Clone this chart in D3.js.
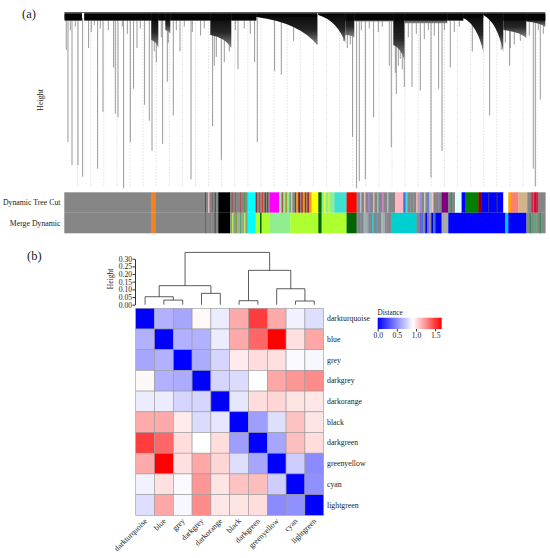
<!DOCTYPE html>
<html>
<head>
<meta charset="utf-8">
<script src="https://cdn.jsdelivr.net/npm/d3@7"></script>
<style>
  body { margin: 0; background: #fff; }
  text { font-family: "Liberation Serif", "Times New Roman", "DejaVu Serif", serif; fill: #1a1a1a; }
</style>
</head>
<body>
<div id="chart"></div>
<script>
// ---------- panel (a): gene dendrogram, positions along gene order (0..481) ----------
var grey = "#868686"

// Dynamic Tree Cut colour row  [from, to, colour]
var treeCutSegments = [
  [0, 86.7, grey], [86.7, 91.3, "#f58220"], [91.3, 140.7, grey],
  [140.7, 141.7, "#a52a2a"], [141.7, 144, grey], [144, 145, "#ffc0cb"], [145, 147, grey], [147, 148.5, "#696969"],
  [148.5, 150.5, grey], [150.5, 152, "#505050"], [152, 154, grey],
  [154, 165.7, "#000000"],
  [165.7, 167.5, grey], [167.5, 168.3, "#a52a2a"], [168.3, 171, grey], [171, 171.8, "#b22222"], [171.8, 176, grey],
  [176, 176.8, "#a52a2a"], [176.8, 180, grey], [180, 180.8, "#228b22"], [180.8, 183.3, grey],
  [183.3, 191.3, "#00ffff"],
  [191.3, 193, "#a52a2a"], [193, 195, grey], [195, 196, "#b22222"], [196, 198, grey], [198, 199, "#ff0000"],
  [199, 200.5, grey], [200.5, 201.5, "#006400"], [201.5, 203, grey], [203, 204, "#8b0000"], [204, 205.7, grey],
  [205.7, 214.7, "#ff00ff"],
  [214.7, 217, "#90ee90"], [217, 218, grey], [218, 219, "#a52a2a"], [219, 221, "#90ee90"], [221, 222, grey],
  [222, 223, "#b8860b"], [223, 225, "#90ee90"], [225, 226.5, grey], [226.5, 228, "#90ee90"], [228, 230.7, grey],
  [230.7, 232, "#b22222"], [232, 234, "#daa520"], [234, 235.5, "#8b0000"], [235.5, 237, grey], [237, 238.5, "#b22222"],
  [238.5, 240.5, "#daa520"], [240.5, 242, "#a52a2a"], [242, 243, grey], [243, 245, "#b22222"], [245, 247.3, "#daa520"],
  [247.3, 254, "#ffff00"], [254, 257.3, "#006400"],
  [257.3, 260, "#90ee90"], [260, 261, "#ffff00"], [261, 264, "#90ee90"], [264, 265, "#adff2f"], [265, 270, "#90ee90"],
  [270, 282.3, "#40e0d0"], [282.3, 292.3, "#ff0000"],
  [292.3, 296, grey], [296, 297, "#b0c4de"], [297, 300, grey], [300, 301, "#ffc0cb"], [301, 304, grey], [304, 305, "#9370db"],
  [305, 309, grey], [309, 310, "#ffb6c1"], [310, 313, grey], [313, 314, "#40e0d0"], [314, 318, grey], [318, 319, "#da70d6"],
  [319, 323, grey], [323, 324, "#87ceeb"], [324, 330.7, grey],
  [330.7, 339, "#ffb6c1"], [339, 341.3, "#4169e1"],
  [341.3, 343, "#40e0d0"], [343, 345, grey], [345, 346, "#4682b4"], [346, 349, grey],
  [349, 352, grey], [352, 353, "#ffb6c1"], [353, 356, "#a9a9a9"], [356, 357, "#9370db"], [357, 360, grey], [360, 361, "#d3d3d3"],
  [361, 364, grey], [364, 365, "#4169e1"], [365, 368, "#bebebe"], [368, 369, "#ffc0cb"], [369, 373, grey], [373, 374, "#6a5acd"],
  [374, 377.3, grey],
  [377.3, 384, "#800080"], [384, 386, grey], [386, 387.5, "#2e8b57"], [387.5, 390.7, grey],
  [390.7, 397.3, "#e0ffff"], [397.3, 400.7, "#0000ff"], [400.7, 414, "#008000"], [414, 417.3, "#8b0000"],
  [417.3, 424, "#0000ff"], [424, 425.5, "#191970"], [425.5, 432, "#0000ff"], [432, 433, "#00008b"], [433, 439, "#0000ff"],
  [439, 444, "#ffffff"], [444, 446.5, "#ffa500"], [446.5, 454, "#fa8072"], [454, 463, "#d2b48c"], [463, 467, grey],
  [467, 468.5, "#dc143c"], [468.5, 469.5, grey], [469.5, 471, "#dc143c"], [471, 472, "#8b0000"], [472, 474, "#dc143c"],
  [474, 481, grey]
]

// Merge Dynamic colour row
var mergedSegments = [
  [0, 86.7, grey], [86.7, 91.3, "#f58220"], [91.3, 140.7, grey],
  [140.7, 141.7, "#2e8b57"], [141.7, 146, grey], [146, 147, "#696969"], [147, 150, grey], [150, 151.5, "#505050"], [151.5, 154, grey],
  [154, 165.7, "#000000"],
  [165.7, 168, "#8fa080"], [168, 169, "#adff2f"], [169, 172, "#909888"], [172, 173, "#6b8e23"], [173, 176, "#a0b090"],
  [176, 177, "#2e8b57"], [177, 180, "#98a890"], [180, 181, "#adff2f"], [181, 183.3, "#8c9c84"],
  [183.3, 191.3, "#00ffff"], [191.3, 195.7, "#adff2f"], [195.7, 197.3, "#006400"], [197.3, 205.7, "#adff2f"],
  [205.7, 226, "#90ee90"], [226, 254, "#adff2f"], [254, 257.3, "#006400"], [257.3, 282.3, "#adff2f"], [282.3, 292.3, "#006400"],
  [292.3, 295, grey], [295, 296, "#4169e1"], [296, 299, grey], [299, 300, "#00ced1"], [300, 303, "#a9a9a9"], [303, 304, "#6495ed"],
  [304, 308, grey], [308, 309, "#00ced1"], [309, 312, grey], [312, 313, "#4682b4"], [313, 317, grey], [317, 318, "#40e0d0"],
  [318, 321, "#a9a9a9"], [321, 322, "#4169e1"], [322, 327.3, grey],
  [327.3, 352.3, "#00ced1"],
  [352.3, 355, grey], [355, 357, "#6a5acd"], [357, 359, "#4169e1"], [359, 361, grey], [361, 363, "#0000ff"], [363, 365, "#7b68ee"],
  [365, 367, grey], [367, 369, "#0000cd"], [369, 371, "#4169e1"], [371, 377.3, "#0000ff"],
  [377.3, 384, "#a9a9a9"], [384, 440.7, "#0000ff"], [440.7, 444, "#00bfff"], [444, 462, "#0000ff"],
  [462, 465, grey], [465, 467, "#2e8b57"], [467, 470, grey], [470, 472, "#3cb371"], [472, 475, grey], [475, 477, "#2e8b57"],
  [477, 481, grey]
]

// dense branches of the tree  [from, to, height at left, height at right]
var treeClusters = [
  [0.3, 17.7, 0.955, 0.955], [20, 87, 0.955, 0.955], [87, 94, 0.845, 0.80], [94, 101, 0.955, 0.955],
  [101, 106, 0.901, 0.88], [106, 146, 0.955, 0.955], [146, 167, 0.873, 0.80], [167, 192, 0.955, 0.955],
  [192, 253, 0.975, 0.817], [254, 281, 0.986, 0.828], [281, 290, 0.873, 0.86], [290, 329, 0.95, 0.95],
  [329, 340, 0.817, 0.732], [340, 383, 0.94, 0.94], [383, 399, 0.955, 0.955], [399, 419, 0.969, 0.777],
  [419, 439, 0.986, 0.777], [439, 462, 0.901, 0.856], [462, 481, 0.95, 0.918]
]

// single long branches  [position, lowest height]
var leafLines = [
  [2, 0.79], [3.7, 0.27], [7.7, 0.14], [13.7, 0.14], [18.3, 0.075], [24.3, 0.80], [33.3, 0.12], [38.7, 0.44],
  [49.3, 0.69], [51, 0.43], [53.7, 0.41], [59.3, 0.01], [66, 0.27], [69.3, 0.57], [72.7, 0.80], [80.3, 0.48],
  [85, 0.39], [87.7, 0.22], [98.3, 0.26], [103, 0.61], [109, 0.42], [115.7, 0.78], [126.7, 0.06], [136.3, 0.87],
  [148.3, 0.36], [157, 0.17], [173.7, 0.68], [190.3, 0.72], [193, 0.27], [210.3, 0.67], [217, 0.65],
  [229.3, 0.84], [252.7, 0.82], [279.3, 0.84], [288.3, 0.30], [292.3, 0.01], [295, 0.05], [301, 0.06],
  [309.3, 0.41], [325, 0.70], [327, 0.24], [332, 0.54], [336, 0.74], [340, 0.58], [347.7, 0.58], [356, 0.56],
  [366.7, 0.07], [374.3, 0.57], [377.7, 0.22], [386, 0.69], [408, 0.78], [425.3, 0.42], [437, 0.79],
  [445.3, 0.70], [469, 0.12], [471, 0.02], [476, 0.51]
]

// short fringe branches under the dense top
var fringeLines = [
  [6, 0.90], [11, 0.92], [27, 0.89], [30, 0.93], [36, 0.91], [44, 0.90], [58, 0.92], [63, 0.88], [76, 0.91],
  [90, 0.78], [92, 0.72], [97, 0.86], [104, 0.83], [112, 0.90], [120, 0.92], [128, 0.89], [140, 0.91],
  [150, 0.70], [152, 0.75], [160, 0.72], [165, 0.78], [171, 0.90], [180, 0.91], [186, 0.88],
  [283, 0.80], [286, 0.82], [297, 0.90], [305, 0.91], [314, 0.89], [318, 0.92], [331, 0.66], [334, 0.70],
  [338, 0.68], [344, 0.86], [352, 0.88], [360, 0.85], [364, 0.90], [370, 0.87], [380, 0.90], [390, 0.89],
  [395, 0.92], [441, 0.83], [446, 0.80], [450, 0.82], [456, 0.84], [465, 0.87], [474, 0.90], [479, 0.88]
]

// faint dotted leaf columns
var dottedLeaves = [13.3, 26.4, 39.5, 52.6, 65.7, 78.8, 91.9, 105, 118.1, 131.2, 144.3, 157.4, 170.5, 183.6,
  196.7, 209.8, 222.9, 236, 249.1, 262.2, 275.3, 288.4, 301.5, 314.6, 327.7, 340.8, 353.9, 367, 380.1,
  393.2, 406.3, 419.4, 432.5, 445.6, 458.7, 471.8]

var colorRowLabels = ["Dynamic Tree Cut", "Merge Dynamic"]

// ---------- panel (b): module eigengene distances ----------
var modules = ["darkturquoise", "blue", "grey", "darkgrey", "darkorange", "black", "darkgreen", "greenyellow", "cyan", "lightgreen"]

var distances = [
  [0.00, 0.64, 0.60, 0.94, 0.85, 1.17, 1.49, 1.17, 0.87, 0.80],
  [0.64, 0.00, 0.64, 0.64, 0.85, 1.17, 1.37, 1.67, 1.01, 1.18],
  [0.60, 0.64, 0.00, 0.62, 0.77, 0.98, 1.02, 1.01, 0.90, 0.89],
  [0.94, 0.64, 0.62, 0.00, 0.77, 0.79, 0.92, 1.18, 1.23, 1.26],
  [0.85, 0.85, 0.77, 0.77, 0.00, 0.83, 1.02, 1.04, 1.00, 0.99],
  [1.17, 1.17, 0.98, 0.79, 0.83, 0.00, 0.57, 0.80, 1.10, 1.00],
  [1.49, 1.37, 1.02, 0.92, 1.02, 0.57, 0.00, 0.60, 1.11, 1.02],
  [1.17, 1.67, 1.01, 1.18, 1.04, 0.80, 0.60, 0.00, 0.74, 0.50],
  [0.87, 1.01, 0.90, 1.23, 1.00, 1.10, 1.11, 0.74, 0.00, 0.52],
  [0.80, 1.18, 0.89, 1.26, 0.99, 1.00, 1.02, 0.50, 0.52, 0.00]
]

// hclust-style merges: a name is a module, a number is an earlier merge (1-based)
var moduleMerges = [
  ["blue", "grey", 0.030], ["darkturquoise", 1, 0.052], ["darkgrey", "darkorange", 0.074], [2, 3, 0.124],
  ["black", "darkgreen", 0.026], ["cyan", "lightgreen", 0.024], ["greenyellow", 6, 0.104], [5, 7, 0.224], [4, 8, 0.341]
]

var heightTicks = [0, 0.05, 0.10, 0.15, 0.20, 0.25, 0.30]
var legendTicks = [0, 0.5, 1.0, 1.5]

var W = 550, H = 558
var serif = "Liberation Serif, Times New Roman, serif"
var svg = d3.select("#chart").append("svg").attr("width", W).attr("height", H)
var defs = svg.append("defs")

// dense branches fade from black crown to grey tips
var shade = defs.append("linearGradient").attr("id", "shade")
    .attr("x1", 0).attr("x2", 0).attr("y1", 0).attr("y2", 1)
shade.append("stop").attr("offset", "0%").attr("stop-color", "#050505")
shade.append("stop").attr("offset", "55%").attr("stop-color", "#262626")
shade.append("stop").attr("offset", "100%").attr("stop-color", "#8a8a8a")

/* ===== panel (a) ===== */
var xGene = d3.scaleLinear().domain([0, 481]).range([64.3, 545.3])
var yTree = d3.scaleLinear().domain([0, 1]).range([190, 12.5])
var yRows = d3.scaleBand().domain(colorRowLabels).range([192.3, 233.3])

svg.append("text").attr("x", 22).attr("y", 18).style("font-size", "12.5px").text("(a)")
svg.append("text")
    .attr("transform", "translate(43,100)rotate(-90)")
    .attr("text-anchor", "middle")
    .style("font-size", "8px")
    .text("Height")

var tree = svg.append("g").attr("class", "gene-tree")

tree.selectAll(".dotted")
    .data(dottedLeaves).enter()
    .append("line")
    .attr("x1", d => xGene(d)).attr("x2", d => xGene(d))
    .attr("y1", yTree(0.96)).attr("y2", yTree(0.015))
    .style("stroke", "#9c9c9c")
    .style("stroke-width", 0.6)
    .style("stroke-dasharray", "0.8,2.2")

tree.selectAll(".leaf")
    .data(leafLines).enter()
    .append("line")
    .attr("x1", d => xGene(d[0])).attr("x2", d => xGene(d[0]))
    .attr("y1", yTree(0.97)).attr("y2", d => yTree(d[1]))
    .style("stroke", "#6e6e6e")
    .style("stroke-width", 0.7)

tree.selectAll(".fringe")
    .data(fringeLines).enter()
    .append("line")
    .attr("x1", d => xGene(d[0])).attr("x2", d => xGene(d[0]))
    .attr("y1", yTree(0.97)).attr("y2", d => yTree(d[1]))
    .style("stroke", "#555")
    .style("stroke-width", 0.6)

// top merge line
tree.append("line")
    .attr("x1", xGene(0)).attr("x2", xGene(481))
    .attr("y1", yTree(1)).attr("y2", yTree(1))
    .style("stroke", "#333").style("stroke-width", 0.8)

tree.selectAll(".cluster")
    .data(treeClusters).enter()
    .append("path")
    .attr("d", d => {
        var x0 = xGene(d[0]), x1 = xGene(d[1])
        var yl = yTree(d[2]), yr = yTree(d[3])
        var top = yTree(0.995)
        var cx = x0 + 0.7 * (x1 - x0), cy = yl + 0.2 * (yr - yl)
        return `M${x0},${top}H${x1}V${yr}Q${cx},${cy} ${x0},${yl}Z`
    })
    .style("fill", "url(#shade)")

// solid dense crown of each cluster
tree.selectAll(".crown")
    .data(treeClusters).enter()
    .append("rect")
    .attr("x", d => xGene(d[0]))
    .attr("width", d => xGene(d[1]) - xGene(d[0]))
    .attr("y", yTree(0.995))
    .attr("height", d => yTree(Math.max(0.955, d[2])) - yTree(0.995))
    .style("fill", "#050505")

// colour rows
var rowsData = [treeCutSegments, mergedSegments]
rowsData.forEach((segs, i) => {
    svg.append("g").selectAll("rect")
        .data(segs).enter()
        .append("rect")
        .attr("x", d => xGene(d[0]))
        .attr("width", d => xGene(d[1]) - xGene(d[0]) + 0.3)
        .attr("y", yRows(colorRowLabels[i]))
        .attr("height", yRows.bandwidth())
        .style("fill", d => d[2])
})

svg.selectAll(".rowlab")
    .data(colorRowLabels).enter()
    .append("text")
    .attr("x", 60.5)
    .attr("y", d => yRows(d) + yRows.bandwidth() / 2 + 2.8)
    .attr("text-anchor", "end")
    .style("font-size", "7.8px")
    .text(d => d)

/* ===== panel (b) ===== */
svg.append("text").attr("x", 27).attr("y", 260).style("font-size", "12.5px").text("(b)")

var xCell = d3.scaleBand().domain(modules).range([135.7, 323.7])
var yCell = d3.scaleBand().domain(modules).range([308.3, 515.3])
var color = d3.scaleLinear().domain([0, 0.92, 1.67]).range(["#0000ff", "#ffffff", "#ff0000"])

var cells = []
distances.forEach((row, i) => row.forEach((v, j) => cells.push({ r: modules[i], c: modules[j], v: v })))

svg.append("g").selectAll("rect")
    .data(cells).enter()
    .append("rect")
    .attr("x", d => xCell(d.c))
    .attr("y", d => yCell(d.r))
    .attr("width", xCell.bandwidth())
    .attr("height", yCell.bandwidth())
    .style("fill", d => color(d.v))
    .style("stroke", "#9a9a9a")
    .style("stroke-width", 0.6)

svg.append("g").selectAll("text")
    .data(modules).enter()
    .append("text")
    .attr("x", 327)
    .attr("y", d => yCell(d) + yCell.bandwidth() / 2 + 2.6)
    .style("font-size", "7.8px")
    .style("fill", "#1a1a1a")
    .text(d => d)

svg.append("g").selectAll("text")
    .data(modules).enter()
    .append("text")
    .attr("transform", d => `translate(${xCell(d) + xCell.bandwidth() / 2 + 2.5},521.5)rotate(-45)`)
    .attr("text-anchor", "end")
    .style("font-size", "7.8px")
    .style("fill", "#1a1a1a")
    .text(d => d)

// module dendrogram
var yH = d3.scaleLinear().domain([0, 0.30]).range([304.7, 258.7])
var nodes = []
var nodeOf = ref => typeof ref === "number" ? nodes[ref - 1] : { x: xCell(ref) + xCell.bandwidth() / 2, h: 0 }
var dendro = svg.append("g")
moduleMerges.forEach(m => {
    var a = nodeOf(m[0]), b = nodeOf(m[1])
    nodes.push({ x: (a.x + b.x) / 2, h: m[2] })
    dendro.append("path")
        .attr("d", `M${a.x},${yH(a.h)}V${yH(m[2])}H${b.x}V${yH(b.h)}`)
        .style("fill", "none")
        .style("stroke", "#333")
        .style("stroke-width", 0.8)
})

var hAxis = svg.append("g")
    .attr("transform", "translate(135,0)")
    .call(d3.axisLeft(yH).tickValues(heightTicks).tickFormat(d3.format(".2f")).tickSize(2.5).tickSizeOuter(0))
hAxis.select(".domain").style("stroke", "#333")
hAxis.selectAll("line").style("stroke", "#333")
hAxis.selectAll("text")
    .attr("x", -3)
    .style("font-family", serif)
    .style("font-size", "7.6px")
    .style("fill", "#1a1a1a")

svg.append("text")
    .attr("transform", "translate(113,279)rotate(-90)")
    .attr("text-anchor", "middle")
    .style("font-size", "7.6px")
    .text("Height")

// legend
var xLeg = d3.scaleLinear().domain([0, 1.67]).range([377.7, 441.7])
var grad = defs.append("linearGradient").attr("id", "distGrad")
color.domain().forEach(v => {
    grad.append("stop").attr("offset", (v / 1.67 * 100) + "%").attr("stop-color", color(v))
})
svg.append("text").attr("x", 377.5).attr("y", 315).style("font-size", "7.2px").text("Distance")
svg.append("rect")
    .attr("x", xLeg(0)).attr("y", 317.7)
    .attr("width", xLeg(1.67) - xLeg(0)).attr("height", 11.3)
    .style("fill", "url(#distGrad)")
var lAxis = svg.append("g")
    .attr("transform", "translate(0,329)")
    .call(d3.axisBottom(xLeg).tickValues(legendTicks).tickFormat(d3.format(".1f")).tickSize(2.5).tickSizeOuter(0))
lAxis.select(".domain").remove()
lAxis.selectAll("line").style("stroke", "#333")
lAxis.selectAll("text")
    .attr("y", 4)
    .style("font-family", serif)
    .style("font-size", "7.6px")
    .style("fill", "#1a1a1a")
</script>
</body>
</html>
